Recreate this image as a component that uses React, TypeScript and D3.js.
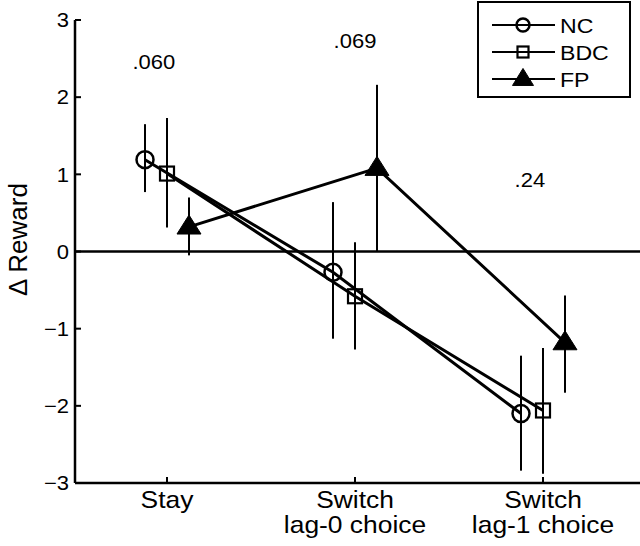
import React from 'react';
import * as d3 from 'd3';

const categories = [['Stay'], ['Switch', 'lag-0 choice'], ['Switch', 'lag-1 choice']];
const groups = ['NC', 'BDC', 'FP'];
const groupOffset = [-0.117, 0, 0.117];

const ncMean = [1.19, -0.27, -2.1];
const ncLow = [0.77, -1.13, -2.84];
const ncHigh = [1.65, 0.64, -1.35];

const bdcMean = [1.01, -0.58, -2.06];
const bdcLow = [0.31, -1.27, -2.88];
const bdcHigh = [1.73, 0.12, -1.25];

const fpMean = [0.32, 1.08, -1.18];
const fpLow = [-0.05, 0.0, -1.83];
const fpHigh = [0.7, 2.16, -0.57];

const pLabels = ['.060', '.069', '.24'];
const pLabelX = [0.93, 2.0, 2.93];
const pLabelY = [2.36, 2.64, 0.83];

const yTicks = [3, 2, 1, 0, -1, -2, -3];

const font = 'Liberation Sans, Arial, Helvetica, sans-serif';

interface Dims {
    width: number;
    height: number;
    left: number;
    right: number;
    top: number;
    bottom: number;
}

// text stretched a bit sideways, like the original export
function Label(props: { x: number; y: number; size: number; anchor?: string; dy?: string; children: React.ReactNode }) {
    return (
        <g transform={`translate(${props.x},${props.y}) scale(1.1,1)`}>
            <text textAnchor={props.anchor || 'start'} dy={props.dy} fontSize={props.size}>
                {props.children}
            </text>
        </g>
    );
}

function Marker({ kind, x, y, big }: { kind: string; x: number; y: number; big: boolean }) {
    if (kind === 'NC') {
        const r = big ? 8.5 : 6.5;
        return <circle cx={x} cy={y} r={r} fill="none" stroke="#000" strokeWidth={2.5} />;
    }
    if (kind === 'BDC') {
        const s = big ? 14 : 11;
        return <rect x={x - s / 2} y={y - s / 2} width={s} height={s} fill="none" stroke="#000" strokeWidth={2.2} />;
    }
    const w = big ? 24 : 21;
    const h = big ? 19 : 17;
    const path = d3.path();
    path.moveTo(x, y - h * 0.62);
    path.lineTo(x + w / 2, y + h * 0.38);
    path.lineTo(x - w / 2, y + h * 0.38);
    path.closePath();
    return <path d={path.toString()} fill="#000" stroke="#000" strokeWidth={1} />;
}

export default function App() {
    const dims: Dims = { width: 640, height: 546, left: 75, right: 640, top: 20, bottom: 483 };

    const x = d3.scaleLinear().domain([0.5, 3.5]).range([dims.left - 2, dims.right - 3]);
    const y = d3.scaleLinear().domain([-3, 3]).range([dims.bottom, dims.top]);

    const series = [
        { name: 'NC', mean: ncMean, low: ncLow, high: ncHigh },
        { name: 'BDC', mean: bdcMean, low: bdcLow, high: bdcHigh },
        { name: 'FP', mean: fpMean, low: fpLow, high: fpHigh },
    ];

    const line = d3.line<[number, number]>().x(d => d[0]).y(d => d[1]);

    return (
        <svg
            width={dims.width}
            height={dims.height}
            style={{ position: 'absolute', left: 0, top: 0, background: '#fff' }}
            fontFamily={font}
        >
            {/* axes */}
            <line x1={dims.left} x2={dims.left} y1={y(3)} y2={y(-3)} stroke="#000" strokeWidth={2.5} />
            <line x1={dims.left} x2={dims.right} y1={y(-3)} y2={y(-3)} stroke="#000" strokeWidth={2.5} />
            <line x1={dims.left} x2={dims.right} y1={y(0)} y2={y(0)} stroke="#000" strokeWidth={2.5} />

            {yTicks.map(t => (
                <g key={t}>
                    <line x1={dims.left} x2={dims.left + 6} y1={y(t)} y2={y(t)} stroke="#000" strokeWidth={2} />
                    <Label x={dims.left - 6} y={y(t)} dy="0.36em" anchor="end" size={20}>
                        {t < 0 ? '\u2212' + Math.abs(t) : String(t)}
                    </Label>
                </g>
            ))}

            {categories.map((c, i) => (
                <g key={i}>
                    <line x1={x(i + 1)} x2={x(i + 1)} y1={y(-3)} y2={y(-3) - 6} stroke="#000" strokeWidth={2} />
                    {c.map((s, j) => (
                        <Label key={j} x={x(i + 1)} y={y(-3) + 25 + j * 25} anchor="middle" size={24}>
                            {s}
                        </Label>
                    ))}
                </g>
            ))}

            <text transform={`translate(27,${y(0) - 12}) rotate(-90)`} textAnchor="middle" fontSize={26}>
                {'\u0394 Reward'}
            </text>

            {/* error bars */}
            {series.map((s, si) =>
                s.mean.map((m, i) => (
                    <line
                        key={s.name + i}
                        x1={x(i + 1 + groupOffset[si])}
                        x2={x(i + 1 + groupOffset[si])}
                        y1={y(s.low[i])}
                        y2={y(s.high[i])}
                        stroke="#000"
                        strokeWidth={2}
                    />
                ))
            )}

            {/* connecting lines */}
            {series.map((s, si) => (
                <path
                    key={s.name}
                    d={line(s.mean.map((m, i) => [x(i + 1 + groupOffset[si]), y(m)] as [number, number])) || ''}
                    fill="none"
                    stroke="#000"
                    strokeWidth={3}
                />
            ))}

            {series.map((s, si) =>
                s.mean.map((m, i) => (
                    <Marker key={s.name + 'm' + i} kind={s.name} x={x(i + 1 + groupOffset[si])} y={y(m)} big={true} />
                ))
            )}

            {pLabels.map((p, i) => (
                <Label key={p} x={x(pLabelX[i])} y={y(pLabelY[i])} anchor="middle" size={20}>
                    {p}
                </Label>
            ))}

            {/* legend */}
            <rect x={478} y={2} width={152} height={95} fill="#fff" stroke="#000" strokeWidth={2} />
            {groups.map((g, i) => {
                const ly = 25 + i * 27;
                return (
                    <g key={g}>
                        <line x1={492} x2={555} y1={ly} y2={ly} stroke="#000" strokeWidth={2} />
                        <Marker kind={g} x={523} y={ly} big={false} />
                        <Label x={560} y={ly} dy="0.36em" size={21}>
                            {g}
                        </Label>
                    </g>
                );
            })}
        </svg>
    );
}
